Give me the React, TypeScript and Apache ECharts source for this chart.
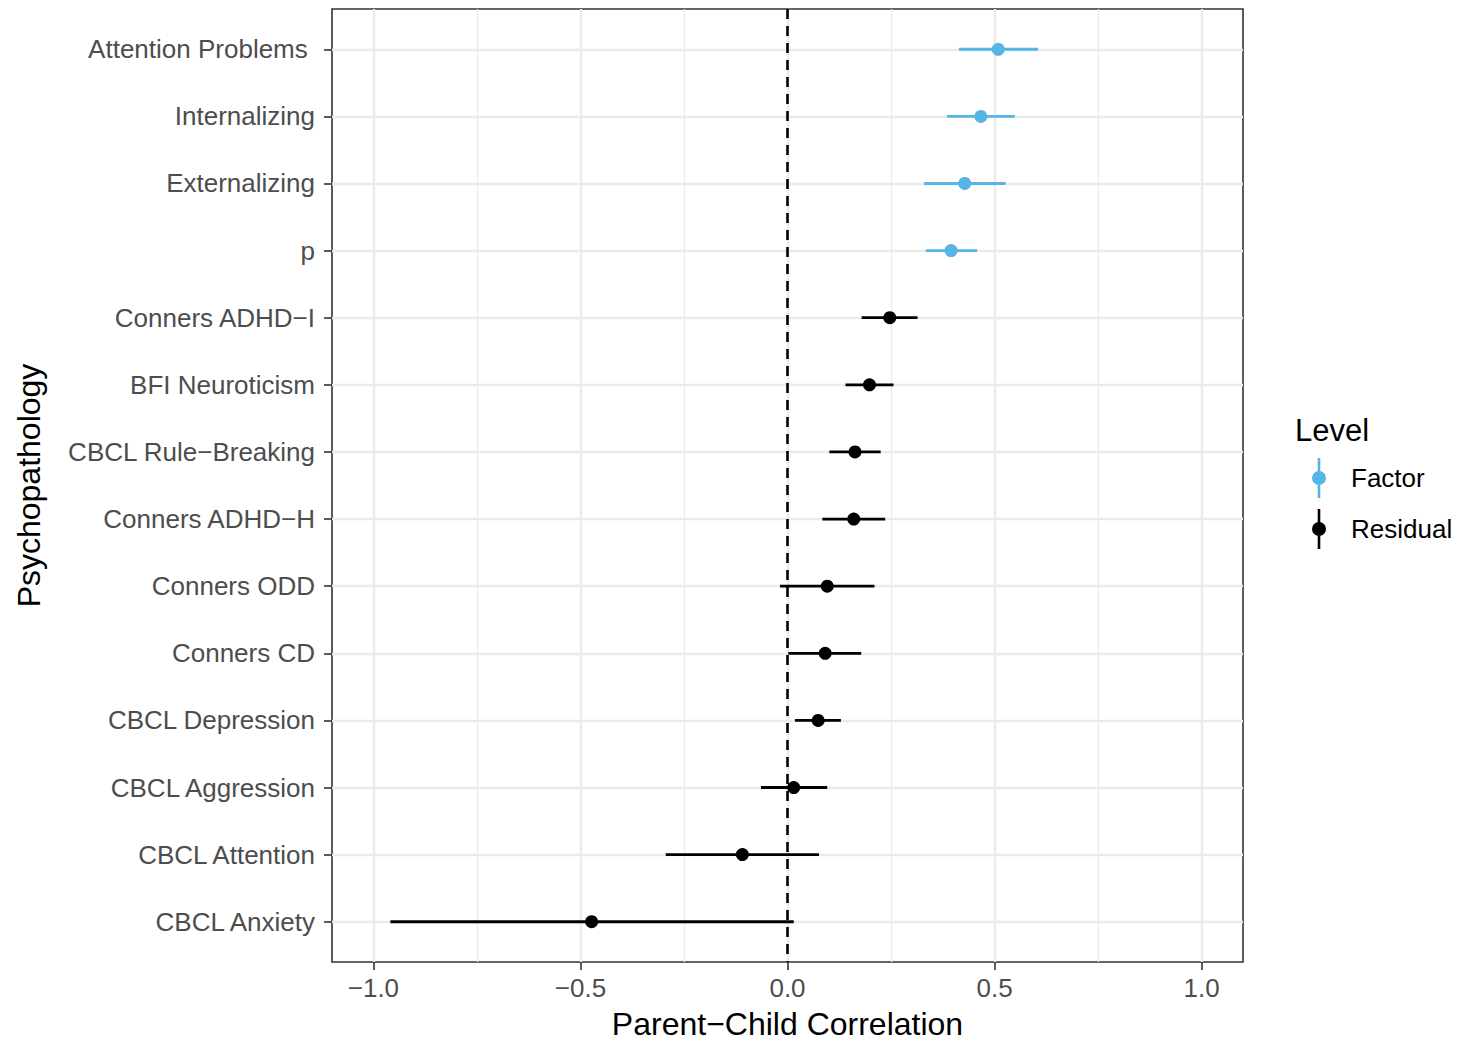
import React, { useEffect, useRef } from 'react';
import * as echarts from 'echarts';

const categories = [
  'Attention Problems ',
  'Internalizing',
  'Externalizing',
  'p',
  'Conners ADHD−I',
  'BFI Neuroticism',
  'CBCL Rule−Breaking',
  'Conners ADHD−H',
  'Conners ODD',
  'Conners CD',
  'CBCL Depression',
  'CBCL Aggression',
  'CBCL Attention',
  'CBCL Anxiety',
];
const levels = [
  'Factor', 'Factor', 'Factor', 'Factor',
  'Residual', 'Residual', 'Residual', 'Residual', 'Residual',
  'Residual', 'Residual', 'Residual', 'Residual', 'Residual',
];
const estimates = [0.509, 0.467, 0.428, 0.395, 0.247, 0.198, 0.163, 0.16, 0.096, 0.091, 0.074, 0.015, -0.109, -0.473];
const lowers = [0.414, 0.385, 0.33, 0.334, 0.179, 0.14, 0.101, 0.084, -0.018, 0.002, 0.018, -0.064, -0.294, -0.959];
const uppers = [0.605, 0.549, 0.527, 0.458, 0.314, 0.256, 0.225, 0.236, 0.21, 0.178, 0.129, 0.096, 0.076, 0.015];

const xMajorTicks = [-1, -0.5, 0, 0.5, 1];
const xMinorTicks = [-0.75, -0.25, 0.25, 0.75];
const levelNames = ['Factor', 'Residual'];
const levelColors = ['#56B4E9', '#000000'];

const FONT = "'Liberation Sans', Arial, Helvetica, sans-serif";
const ICON = 'path://M5.7,0 L8.3,0 L8.3,40 L5.7,40 Z M0,20 A7,7 0 1,1 14,20 A7,7 0 1,1 0,20 Z';

const fmtX = (v: number) => (v < 0 ? '−' : '') + Math.abs(v).toFixed(1);

export default function App() {
  const ref = useRef<HTMLDivElement>(null);
  useEffect(() => {
    const chart = echarts.init(ref.current!, null, { renderer: 'svg' });
    const yIdx = categories.map((_, i) => i + 1);
    const series: any[] = [];
    levelNames.forEach((lv, k) => {
      const rows = categories.map((_, i) => i).filter((i) => levels[i] === lv);
      series.push({
        type: 'custom',
        name: lv,
        xAxisIndex: 0,
        yAxisIndex: 0,
        data: rows.map((i) => [lowers[i], uppers[i], yIdx[i]]),
        encode: { x: [0, 1], y: 2 },
        itemStyle: { color: levelColors[k] },
        renderItem: (_params: any, api: any) => {
          const p1 = api.coord([api.value(0), api.value(2)]);
          const p2 = api.coord([api.value(1), api.value(2)]);
          return {
            type: 'line',
            shape: { x1: p1[0], y1: p1[1], x2: p2[0], y2: p2[1] },
            style: { stroke: levelColors[k], lineWidth: 2.8 },
          };
        },
        z: 3,
        silent: true,
      });
      const sc: any = {
        type: 'scatter',
        name: lv,
        xAxisIndex: 0,
        yAxisIndex: 0,
        data: rows.map((i) => [estimates[i], yIdx[i]]),
        symbol: 'circle',
        symbolSize: 13,
        itemStyle: { color: levelColors[k], opacity: 1 },
        z: 4,
        silent: true,
      };
      if (k === 1) {
        sc.markLine = {
          silent: true,
          symbol: 'none',
          z: 5,
          label: { show: false },
          lineStyle: { type: [10, 7], color: '#000000', width: 2.6 },
          data: [{ xAxis: 0 }],
        };
      }
      series.push(sc);
    });

    chart.setOption({
      animation: false,
      textStyle: { fontFamily: FONT },
      grid: {
        left: 332,
        top: 9,
        width: 911,
        height: 953,
        show: true,
        borderColor: '#333333',
        borderWidth: 1.6,
        backgroundColor: 'transparent',
        containLabel: false,
        outerBoundsMode: 'none',
      },
      xAxis: [
        {
          type: 'value',
          min: -1.1,
          max: 1.1,
          position: 'bottom',
          axisLine: { show: false, onZero: false },
          axisTick: { show: true, customValues: xMajorTicks, length: 8, lineStyle: { color: '#333333', width: 1.6 } },
          axisLabel: {
            customValues: xMajorTicks,
            formatter: (v: number) => fmtX(v),
            fontSize: 26,
            color: '#4d4d4d',
            margin: 13,
            fontFamily: FONT,
          },
          splitLine: { show: true, lineStyle: { color: '#ebebeb', width: 2.3 } },
          name: 'Parent−Child Correlation',
          nameLocation: 'middle',
          nameGap: 46,
          nameTextStyle: { fontSize: 32, color: '#000000', fontFamily: FONT },
        },
        {
          type: 'value',
          min: -1.1,
          max: 1.1,
          position: 'top',
          axisLine: { show: false, onZero: false },
          axisTick: { show: false, customValues: xMinorTicks },
          axisLabel: { show: false, customValues: xMinorTicks },
          splitLine: { show: true, lineStyle: { color: '#ebebeb', width: 1.3 } },
        },
      ],
      yAxis: [
        {
          type: 'value',
          inverse: true,
          min: 0.4,
          max: 14.6,
          position: 'left',
          axisLine: { show: false, onZero: false },
          axisTick: { show: true, customValues: yIdx, length: 8, lineStyle: { color: '#333333', width: 1.6 } },
          axisLabel: {
            customValues: yIdx,
            formatter: (v: number) => categories[Math.round(v) - 1] ?? '',
            fontSize: 26,
            color: '#4d4d4d',
            margin: 17,
            fontFamily: FONT,
          },
          splitLine: { show: true, lineStyle: { color: '#ebebeb', width: 2.3 } },
          name: 'Psychopathology',
          nameLocation: 'middle',
          nameRotate: 90,
          nameGap: 287,
          nameTextStyle: { fontSize: 32, color: '#000000', fontFamily: FONT },
        },
      ],
      legend: {
        data: levelNames.map((n) => ({ name: n, icon: ICON })),
        orient: 'vertical',
        left: 1307,
        top: 453,
        itemWidth: 14,
        itemHeight: 40,
        itemGap: 11,
        selectedMode: false,
        textStyle: { fontSize: 26, color: '#000000', fontFamily: FONT, padding: [0, 0, 0, 20] },
      },
      graphic: [
        {
          type: 'text',
          left: 1295,
          top: 415,
          style: { text: 'Level', fontSize: 31, fill: '#000000', fontFamily: FONT },
        },
      ],
      series,
    });
    return () => chart.dispose();
  }, []);
  return <div ref={ref} style={{ position: 'absolute', left: 0, top: 0, width: 1460, height: 1043 }} />;
}
